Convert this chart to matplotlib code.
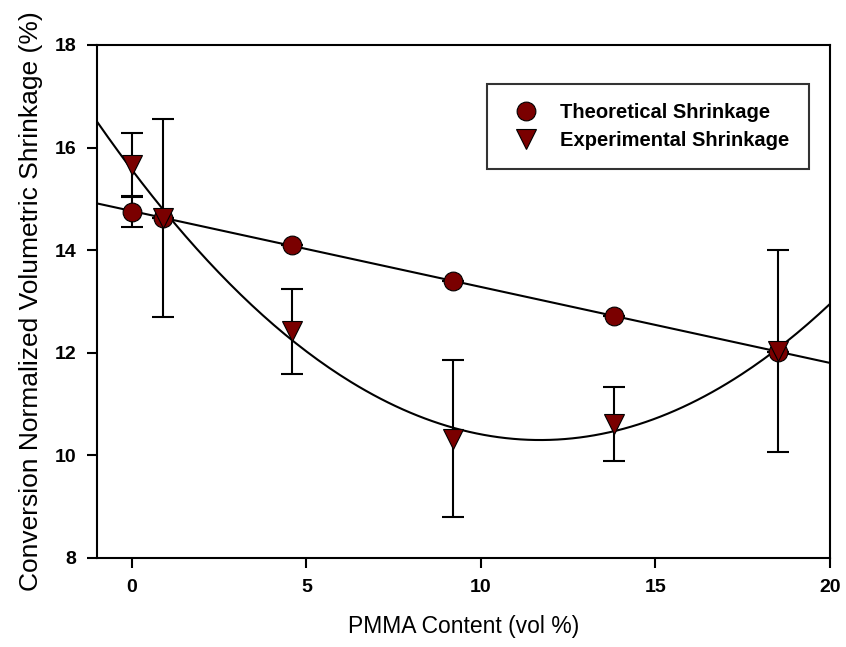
import numpy as np
import matplotlib
matplotlib.use('Agg')
import matplotlib.pyplot as plt

plt.rcParams['font.family'] = ['Liberation Sans', 'DejaVu Sans']

# PMMA content (vol %)
pmma = [0, 0.9, 4.6, 9.2, 13.8, 18.5]
theo = [14.75, 14.63, 14.10, 13.40, 12.72, 12.02]
theo_err = [0.30, 0, 0, 0, 0, 0]
expt = [15.66, 14.62, 12.42, 10.32, 10.62, 12.04]
expt_err = [0.62, 1.93, 0.83, 1.53, 0.72, 1.97]

fig = plt.figure(figsize=(8.46, 6.47), dpi=100)
ax = fig.add_axes([0.1147, 0.1376, 0.8664, 0.7929])

dark_red = '#7a0000'

# regression lines
xf = np.linspace(-1, 20, 200)
lin = np.polyfit(pmma, theo, 1)
quad = np.polyfit(pmma, expt, 2)
ax.plot(xf, np.polyval(lin, xf), color='black', lw=1.5, zorder=2)
ax.plot(xf, np.polyval(quad, xf), color='black', lw=1.5, zorder=2)

ax.errorbar(pmma, theo, yerr=theo_err, fmt='none', ecolor='black',
            elinewidth=1.5, capsize=8, capthick=1.5, zorder=3)
ax.errorbar(pmma, expt, yerr=expt_err, fmt='none', ecolor='black',
            elinewidth=1.5, capsize=8, capthick=1.5, zorder=3)
ax.plot(pmma, theo, 'o', ms=13.5, mfc=dark_red, mec='black', mew=0.8,
        ls='none', zorder=4, label='Theoretical Shrinkage')
ax.plot(pmma, expt, 'v', ms=15, mfc=dark_red, mec='black', mew=0.8,
        ls='none', zorder=5, label='Experimental Shrinkage')

ax.set_xlim(-1, 20)
ax.set_ylim(8, 18)
ax.set_xticks([0, 5, 10, 15, 20])
ax.set_yticks([8, 10, 12, 14, 16, 18])
ax.tick_params(direction='out', length=7, width=1.5, labelsize=14, pad=8)
for lab in ax.get_xticklabels() + ax.get_yticklabels():
    lab.set_fontweight('bold')
for s in ax.spines.values():
    s.set_linewidth(1.5)

ax.set_xlabel('PMMA Content (vol %)', fontsize=16.5, labelpad=14)
ax.set_ylabel('Conversion Normalized Volumetric Shrinkage (%)', fontsize=19, labelpad=8)

leg = ax.legend(loc='upper left', bbox_to_anchor=(0.532, 0.924), frameon=True,
                fancybox=False, edgecolor='black', prop={'weight': 'bold', 'size': 14.5},
                borderpad=0.95, labelspacing=0.45, handletextpad=0.7, borderaxespad=0,
                handlelength=2.0)
leg.get_frame().set_linewidth(1.5)

fig.savefig('out.png', dpi=100)
